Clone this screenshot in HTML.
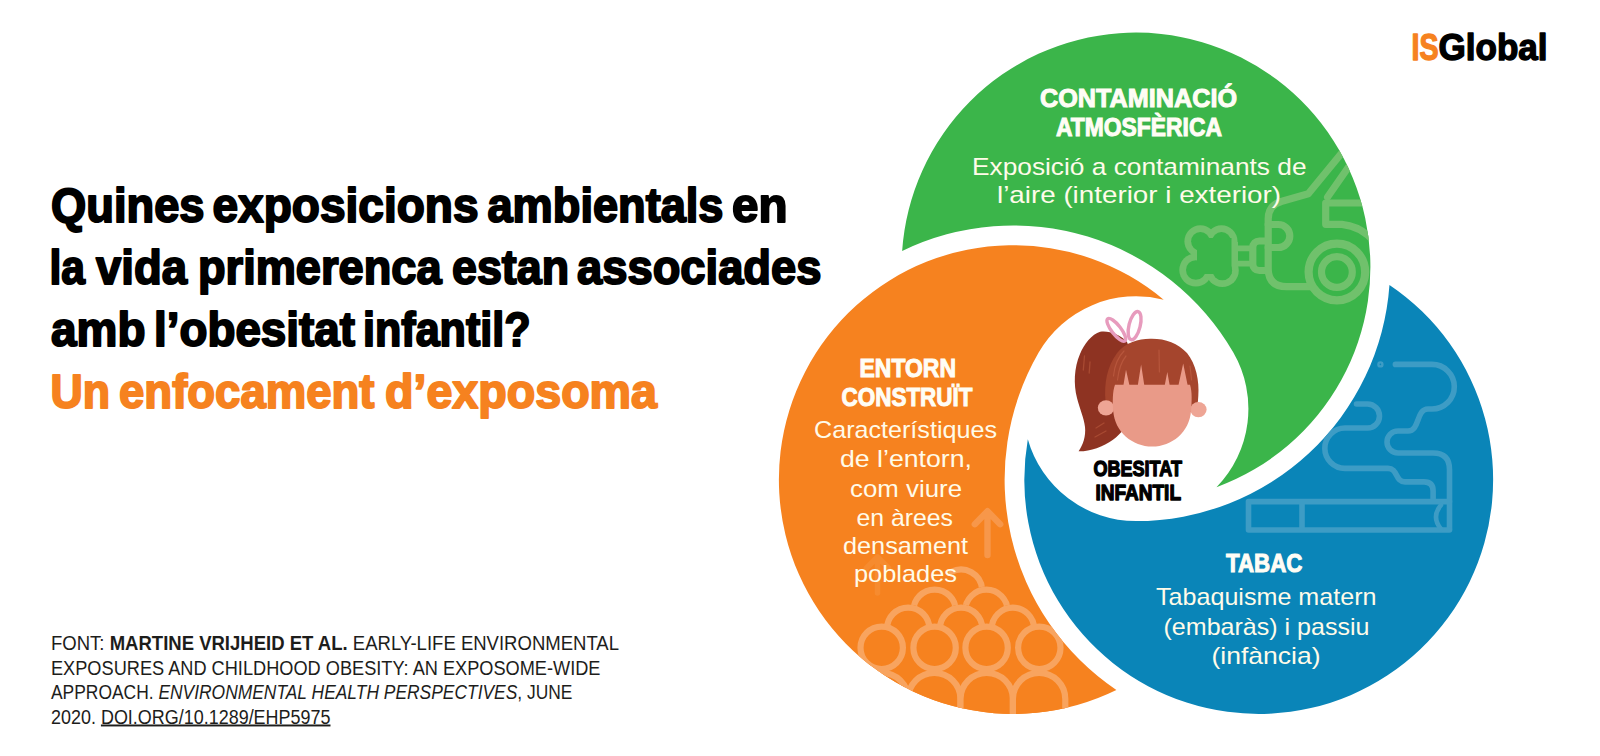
<!DOCTYPE html>
<html lang="ca">
<head>
<meta charset="utf-8">
<title>Exposoma i obesitat infantil</title>
<style>
  html, body { margin: 0; padding: 0; background: #ffffff; }
  body { width: 1600px; height: 756px; overflow: hidden; font-family: "Liberation Sans", sans-serif; }
  svg { display: block; }
  text { font-family: "Liberation Sans", sans-serif; }
  .title { font-weight: bold; font-size: 48.6px; fill: #000; stroke: #000; stroke-width: 2px; stroke-linejoin: round; }
  .sub { font-weight: bold; font-size: 48.6px; fill: #f6821f; stroke: #f6821f; stroke-width: 2px; stroke-linejoin: round; }
  .foot { font-size: 19.4px; fill: #1d1d1b; }
  .head { font-weight: bold; font-size: 25.5px; fill: #fffdf5; stroke: #fffdf5; stroke-width: 1px; }
  .body { font-size: 24px; fill: #fffbe9; }
  .ctr { font-weight: bold; font-size: 21.6px; fill: #000; stroke: #000; stroke-width: 1.3px; stroke-linejoin: round; }
</style>
</head>
<body>
<svg width="1600" height="756" viewBox="0 0 1600 756">
  <defs>
    <path id="swirl" d="M902.14 251.04 A234.4 234.4 0 1 1 1216.5 487.14 A112.4 112.4 0 0 0 1233.34 352.5 A254.1 254.1 0 0 0 902.14 251.04 Z"/>
    <clipPath id="cG"><use href="#swirl"/></clipPath>
    <clipPath id="cO"><use href="#swirl" transform="rotate(-120 1136 408.7)"/></clipPath>
    <clipPath id="cB"><use href="#swirl" transform="rotate(120 1136 408.7)"/></clipPath>
  </defs>

  <!-- GREEN -->
  <use href="#swirl" fill="#3bb54a"/>
  <g clip-path="url(#cG)" id="gGreen">
    <!-- exhaust cloud (union outline of four lobes) -->
    <g fill="#70c16c">
      <circle cx="1200.4" cy="241.3" r="16"/><circle cx="1221.5" cy="241.3" r="16"/>
      <circle cx="1195.8" cy="270" r="16.5"/><circle cx="1222.3" cy="270.5" r="16.5"/>
      <rect x="1196" y="242" width="42" height="28"/>
    </g>
    <g fill="#3bb54a">
      <circle cx="1200.4" cy="241.3" r="9.3"/><circle cx="1221.5" cy="241.3" r="9.3"/>
      <circle cx="1195.8" cy="270" r="9.8"/><circle cx="1222.3" cy="270.5" r="9.8"/>
      <rect x="1197" y="238" width="34.5" height="36"/>
    </g>
    <g fill="none" stroke="#70c16c" stroke-width="7.2" stroke-linecap="round" stroke-linejoin="round">
      <!-- pipe between cloud and nozzle -->
      <path d="M1236 248.4 H1250 M1236 263.6 H1250" stroke-width="5.6" stroke-linecap="butt"/>
      <!-- nozzle -->
      <path d="M1266 241 H1259.3 A6.5 6.5 0 0 0 1252.8 247.5 V264 A6.5 6.5 0 0 0 1259.3 270.5 H1266"/>
      <!-- exhaust loop -->
      <path d="M1268.2 224.5 H1278.3 A11.5 11.5 0 0 1 1278.3 247.5 H1268.2"/>
      <!-- car body -->
      <path d="M1345 149 L1308.3 193.8 L1282 201.2 Q1268.2 205 1268.2 219 V268.5 Q1268.2 286.6 1286.5 286.6 H1310"/>
      <!-- windshield -->
      <path d="M1352 162 L1327.6 197"/>
      <!-- window + fender -->
      <path d="M1366 203 H1325.7 V224.3 H1342 A48 48 0 0 1 1374 241.5"/>
      <!-- wheel -->
      <circle cx="1336.9" cy="272" r="28.3" stroke-width="8.2"/>
      <circle cx="1336.9" cy="272" r="15.4"/>
    </g>
  </g>

  <!-- ORANGE -->
  <use href="#swirl" fill="#f6821f" transform="rotate(-120 1136 408.7)"/>
  <g clip-path="url(#cO)" id="gOrange">
    <!-- arrows -->
    <g fill="none" stroke="#f7974a" stroke-width="6.4" stroke-linecap="round" stroke-linejoin="round">
      <path d="M987.5 555 V512.5 M974.8 524.2 L987.5 511.2 L1000.2 524.2"/>
      <path d="M877.5 593 V558 M866.5 568 L877.5 557 L888.5 568" stroke="#f68b2f" stroke-width="5.6"/>
    </g>
    <!-- crowd -->
    <g fill="#f6821f" stroke="#f8a45f" stroke-width="6.2">
      <path d="M951.5 571.8 A21.2 21.2 0 0 1 982.1 589" fill="none" stroke-linecap="round"/>
      <circle cx="934.6" cy="610.8" r="24.3" stroke="none"/><path d="M913.4 614.8 V610.8 A21.2 21.2 0 0 1 955.8 610.8 V614.8" fill="none"/><circle cx="986.4" cy="610.8" r="24.3" stroke="none"/><path d="M965.2 614.8 V610.8 A21.2 21.2 0 0 1 1007.6 610.8 V614.8" fill="none"/>
      <circle cx="908.2" cy="628.8" r="24.3" stroke="none"/><path d="M887.0 632.8 V628.8 A21.2 21.2 0 0 1 929.4 628.8 V632.8" fill="none"/><circle cx="961.1" cy="628.8" r="24.3" stroke="none"/><path d="M939.9 632.8 V628.8 A21.2 21.2 0 0 1 982.3 628.8 V632.8" fill="none"/><circle cx="1012.9" cy="628.8" r="24.3" stroke="none"/><path d="M991.7 632.8 V628.8 A21.2 21.2 0 0 1 1034.1 628.8 V632.8" fill="none"/>
      <path d="M855.7 760 V699 A26.2 26.2 0 0 1 908.1 699 V760 Z"/>
      <path d="M908.1 760 V699 A26.2 26.2 0 0 1 960.5 699 V760 Z"/>
      <path d="M960.5 760 V699 A26.2 26.2 0 0 1 1012.9 699 V760 Z"/>
      <path d="M1012.9 760 V699 A26.2 26.2 0 0 1 1065.3 699 V760 Z"/>
      <circle cx="881.7" cy="647.8" r="21.2"/><circle cx="934.6" cy="647.8" r="21.2"/><circle cx="986.6" cy="647.8" r="21.2"/><circle cx="1039.3" cy="647.8" r="21.2"/>
    </g>
  </g>

  <!-- BLUE -->
  <use href="#swirl" fill="#0a85b8" transform="rotate(120 1136 408.7)"/>
  <g clip-path="url(#cB)" id="gBlue">
    <g fill="none" stroke="#3d9cc5" stroke-width="5.6" stroke-linecap="round" stroke-linejoin="round">
      <!-- smoke, outer trail -->
      <circle cx="1380.4" cy="364.4" r="1.2" stroke-width="4"/>
      <path d="M1395.4 364.4 H1432 A22.3 22.3 0 0 1 1432 409 H1428 C1416 409 1420 431 1408 431 H1398 A11 11 0 0 0 1398 453 H1433 Q1449.5 453 1449.5 469.5 V529"/>
      <!-- smoke, inner trail -->
      <path d="M1356.5 404 H1367.5 A12 12 0 0 1 1367.5 428 H1345 A20.2 20.2 0 0 0 1345 468.4 H1388 C1398 468.4 1395 481.9 1405 481.9 H1424 Q1433.1 481.9 1433.1 491 V501"/>
      <!-- cigarette -->
      <path d="M1248.5 501.6 H1449.5 M1449.5 530 H1248.5 V501.6 M1302 501.6 V530"/>
      <path d="M1441 505 Q1431 517 1441 529" stroke-width="4.6"/>
    </g>
  </g>

  <!-- CENTER: girl -->
  <g id="girl">
    <!-- ponytail -->
    <path d="M1100.2 331.7 C1092 334 1084 344 1080 354 C1074 368 1073.5 384 1077 398 C1079.5 408 1084 418 1085 427 C1086 436 1083 445 1078.6 451.3 C1090 451.5 1103 447 1113 439.7 C1121 434 1128 425 1132 414 L1134 360 L1127 342 C1120 334 1109 330.5 1100.2 331.7 Z" fill="#8e3322"/>
    <!-- ponytail strands -->
    <path d="M1084.5 356 l-1.2 14 M1090 362 l-0.8 11 M1096 428 l8 -5 M1095 437 l11 -6" stroke="#a84a32" stroke-width="1.3" stroke-linecap="round" fill="none"/>
    <!-- ribbon -->
    <ellipse cx="1116.3" cy="329.8" rx="14" ry="4.6" transform="rotate(52 1116.3 329.8)" fill="none" stroke="#e79bbd" stroke-width="3.4"/>
    <ellipse cx="1134.6" cy="325.6" rx="14.5" ry="5.6" transform="rotate(-76 1134.6 325.6)" fill="none" stroke="#e79bbd" stroke-width="3.4"/>
    <!-- main hair -->
    <path d="M1105.5 401 C1104 384 1107 366 1117.1 352.9 C1126 342 1139 338.5 1151 338.7 C1165 338.5 1178 343 1187 353 C1196 364 1199.5 381 1198.3 396 C1198 403 1197 408 1195 412 L1108 412 C1106.5 408 1105.8 404 1105.5 401 Z" fill="#a5452d"/>
    <path d="M1113.5 376 C1114.5 366 1118 357 1124 351 M1117.5 380 C1118.5 371 1121 362 1126 356 M1159 350 l0.4 22 M1190 366 l1.6 14" stroke="#bb5a40" stroke-width="1.2" stroke-linecap="round" fill="none" opacity="0.8"/>
    <!-- ears -->
    <ellipse cx="1106" cy="407.8" rx="8.2" ry="7.6" fill="#eea595"/>
    <ellipse cx="1198.4" cy="409.6" rx="8.2" ry="7.6" fill="#eea595"/>
    <!-- face -->
    <path d="M1115 384.8 L1190 384.8 C1192.3 392 1191.8 402 1191 411 C1189.5 432 1172 446.6 1152.2 446.6 C1132.5 446.6 1114.8 432 1113.2 411 C1112.6 402 1112.4 392 1115 384.8 Z" fill="#e99a88"/>
    <!-- bangs gaps -->
    <path d="M1123.3 386 L1126 369.8 L1129.6 386 Z M1137.7 386 L1141.1 364.6 L1144.4 386 Z M1164.6 386 L1167.3 372 L1169.8 386 Z M1178.3 386 L1183.2 363.5 L1187.8 386 Z" fill="#e99a88"/>
  </g>

  <!-- DIAGRAM TEXT -->
  <text class="head" id="g1" x="1040.00" y="107.1" textLength="197.00" lengthAdjust="spacingAndGlyphs">CONTAMINACIÓ</text>
  <text class="head" id="g2" x="1056.00" y="136.4" textLength="166.00" lengthAdjust="spacingAndGlyphs">ATMOSFÈRICA</text>
  <text class="body" id="g3" x="972.00" y="174.6" textLength="334.50" lengthAdjust="spacingAndGlyphs">Exposició a contaminants de</text>
  <text class="body" id="g4" x="997.00" y="202.8" textLength="284.00" lengthAdjust="spacingAndGlyphs">l’aire (interior i exterior)</text>
  <text class="head" id="o1" x="859.50" y="377.1" textLength="96.50" lengthAdjust="spacingAndGlyphs">ENTORN</text>
  <text class="head" id="o2" x="841.50" y="405.6" textLength="131.00" lengthAdjust="spacingAndGlyphs">CONSTRUÏT</text>
  <text class="body" id="o3" x="814.00" y="438.0" textLength="183.00" lengthAdjust="spacingAndGlyphs">Característiques</text>
  <text class="body" id="o4" x="840.00" y="467.2" textLength="132.00" lengthAdjust="spacingAndGlyphs">de l’entorn,</text>
  <text class="body" id="o5" x="850.00" y="496.5" textLength="112.00" lengthAdjust="spacingAndGlyphs">com viure</text>
  <text class="body" id="o6" x="856.50" y="525.7" textLength="96.50" lengthAdjust="spacingAndGlyphs">en àrees</text>
  <text class="body" id="o7" x="843.00" y="553.9" textLength="125.00" lengthAdjust="spacingAndGlyphs">densament</text>
  <text class="body" id="o8" x="854.00" y="582.4" textLength="103.00" lengthAdjust="spacingAndGlyphs">poblades</text>
  <text class="head" id="b1" x="1226.00" y="572.3" textLength="76.50" lengthAdjust="spacingAndGlyphs">TABAC</text>
  <text class="body" id="b2" x="1156.00" y="605.1" textLength="220.50" lengthAdjust="spacingAndGlyphs">Tabaquisme matern</text>
  <text class="body" id="b3" x="1163.50" y="634.7" textLength="206.00" lengthAdjust="spacingAndGlyphs">(embaràs) i passiu</text>
  <text class="body" id="b4" x="1211.50" y="663.7" textLength="109.00" lengthAdjust="spacingAndGlyphs">(infància)</text>
  <text class="ctr" id="c1" x="1093.50" y="476.2" textLength="88.50" lengthAdjust="spacingAndGlyphs">OBESITAT</text>
  <text class="ctr" id="c2" x="1095.50" y="500.2" textLength="85.50" lengthAdjust="spacingAndGlyphs">INFANTIL</text>

  <!-- LOGO -->
  <g font-weight="bold" font-size="36.5" stroke-width="1.4" stroke-linejoin="round">
    <text id="lgIS" x="1411.5" y="60.3" textLength="27" lengthAdjust="spacingAndGlyphs" fill="#f6821f" stroke="#f6821f">IS</text>
    <text id="lgGl" x="1438.5" y="60.3" textLength="109" lengthAdjust="spacingAndGlyphs" fill="#000" stroke="#000">Global</text>
  </g>

  <!-- TITLE -->
  <text class="title" id="w0" x="51.00" y="221.5" textLength="153.50" lengthAdjust="spacingAndGlyphs">Quines</text>
  <text class="title" id="w1" x="212.50" y="221.5" textLength="266.00" lengthAdjust="spacingAndGlyphs">exposicions</text>
  <text class="title" id="w2" x="487.50" y="221.5" textLength="236.00" lengthAdjust="spacingAndGlyphs">ambientals</text>
  <text class="title" id="w3" x="732.00" y="221.5" textLength="55.50" lengthAdjust="spacingAndGlyphs">en</text>
  <text class="title" id="w4" x="49.50" y="283.8" textLength="35.50" lengthAdjust="spacingAndGlyphs">la</text>
  <text class="title" id="w5" x="96.00" y="283.8" textLength="91.00" lengthAdjust="spacingAndGlyphs">vida</text>
  <text class="title" id="w6" x="198.00" y="283.8" textLength="243.50" lengthAdjust="spacingAndGlyphs">primerenca</text>
  <text class="title" id="w7" x="452.00" y="283.8" textLength="117.00" lengthAdjust="spacingAndGlyphs">estan</text>
  <text class="title" id="w8" x="577.00" y="283.8" textLength="244.50" lengthAdjust="spacingAndGlyphs">associades</text>
  <text class="title" id="w9" x="51.00" y="346" textLength="94.50" lengthAdjust="spacingAndGlyphs">amb</text>
  <text class="title" id="w10" x="154.00" y="346" textLength="201.00" lengthAdjust="spacingAndGlyphs">l’obesitat</text>
  <text class="title" id="w11" x="363.00" y="346" textLength="167.50" lengthAdjust="spacingAndGlyphs">infantil?</text>
  <text class="sub" id="w12" x="50.50" y="408.4" textLength="59.50" lengthAdjust="spacingAndGlyphs">Un</text>
  <text class="sub" id="w13" x="119.00" y="408.4" textLength="255.50" lengthAdjust="spacingAndGlyphs">enfocament</text>
  <text class="sub" id="w14" x="385.00" y="408.4" textLength="272.00" lengthAdjust="spacingAndGlyphs">d’exposoma</text>

  <!-- FOOTER -->
  <text class="foot" x="51" y="650.2" textLength="568" lengthAdjust="spacingAndGlyphs">FONT: <tspan font-weight="bold">MARTINE VRIJHEID ET AL.</tspan> EARLY-LIFE ENVIRONMENTAL</text>
  <text class="foot" x="51" y="674.6" textLength="549.5" lengthAdjust="spacingAndGlyphs">EXPOSURES AND CHILDHOOD OBESITY: AN EXPOSOME-WIDE</text>
  <text class="foot" x="51" y="699" textLength="521.5" lengthAdjust="spacingAndGlyphs">APPROACH. <tspan font-style="italic">ENVIRONMENTAL HEALTH PERSPECTIVES</tspan>, JUNE</text>
  <text class="foot" x="51" y="723.5" textLength="279.5" lengthAdjust="spacingAndGlyphs">2020. <tspan text-decoration="underline">DOI.ORG/10.1289/EHP5975</tspan></text>
</svg>
</body>
</html>
